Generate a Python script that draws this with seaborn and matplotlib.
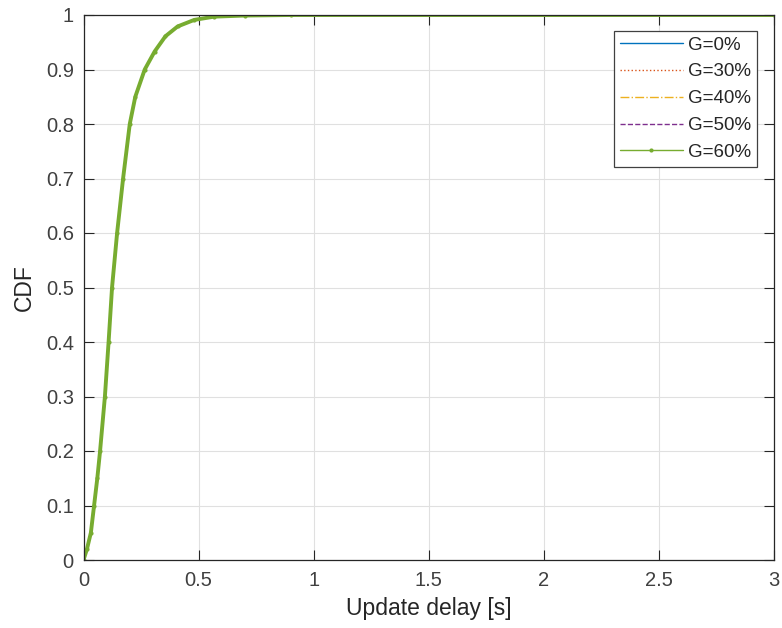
import matplotlib
matplotlib.use("Agg")
import matplotlib.pyplot as plt
import seaborn as sns
import pandas as pd

delay = [0.0, 0.015, 0.032, 0.046, 0.060, 0.072, 0.093, 0.109, 0.124, 0.146, 0.172,
         0.201, 0.225, 0.266, 0.309, 0.356, 0.409, 0.481, 0.568, 0.70, 0.90, 3.0]
cdf = [0.0, 0.02, 0.05, 0.10, 0.15, 0.20, 0.30, 0.40, 0.50, 0.60, 0.70,
       0.80, 0.85, 0.90, 0.933, 0.961, 0.979, 0.991, 0.997, 0.999, 1.0, 1.0]
series = ["G=0%", "G=30%", "G=40%", "G=50%", "G=60%"]
colors = ["#0072BD", "#D95319", "#EDB120", "#7E2F8E", "#77AC30"]
styles = ["-", ":", "-.", "--", "-"]
markers = [None, None, None, None, "."]
widths = [1.0, 1.0, 1.0, 1.0, 2.8]
xticks = [0, 0.5, 1, 1.5, 2, 2.5, 3]
xticklabels = ["0", "0.5", "1", "1.5", "2", "2.5", "3"]
yticks = [0, 0.1, 0.2, 0.3, 0.4, 0.5, 0.6, 0.7, 0.8, 0.9, 1.0]
yticklabels = ["0", "0.1", "0.2", "0.3", "0.4", "0.5", "0.6", "0.7", "0.8", "0.9", "1"]

sns.set_theme(style="whitegrid")
plt.rcParams["font.family"] = ["Liberation Sans", "DejaVu Sans"]

fig = plt.figure(figsize=(7.82, 6.28), dpi=100)
ax = fig.add_axes([83.5 / 782, (628 - 560) / 628, (774 - 83.5) / 782, 545 / 628])

df = pd.DataFrame({"delay": delay, "cdf": cdf})
for name, c, ls, m, lw in zip(series, colors, styles, markers, widths):
    sns.lineplot(data=df, x="delay", y="cdf", ax=ax, color=c, linestyle=ls,
                 marker=m, markersize=6, linewidth=lw, label=name,
                 markeredgewidth=0)

ax.set_xlim(0, 3)
ax.set_ylim(0, 1)
ax.set_xticks(xticks)
ax.set_xticklabels(xticklabels)
ax.set_yticks(yticks)
ax.set_yticklabels(yticklabels)
ax.set_xlabel("Update delay [s]", fontsize=16.5, color="#262626", labelpad=5)
ax.set_ylabel("CDF", fontsize=16.5, color="#262626", labelpad=7)
ax.tick_params(direction="in", length=7, width=0.8, colors="#262626", labelsize=14.5,
               top=True, right=True, bottom=True, left=True, labelcolor="#404040")
ax.tick_params(axis="x", pad=8)
ax.tick_params(axis="y", pad=7)
ax.grid(True, color="#e0e0e0", linewidth=0.8)
ax.set_facecolor("white")
for s in ax.spines.values():
    s.set_visible(True)
    s.set_color("#262626")
    s.set_linewidth(0.9)

leg = ax.legend(loc="upper right", bbox_to_anchor=(0.975, 0.971), fontsize=13.5,
                frameon=True, fancybox=False, handlelength=3.4, borderpad=0.3,
                labelspacing=0.52, handletextpad=0.25, borderaxespad=0.0,
                labelcolor="#262626")
leg.get_frame().set_edgecolor("#404040")
leg.get_frame().set_linewidth(0.9)
leg.get_frame().set_alpha(1)
for ln in leg.get_lines():
    ln.set_linewidth(1.0)

fig.savefig("out.png", dpi=100)
